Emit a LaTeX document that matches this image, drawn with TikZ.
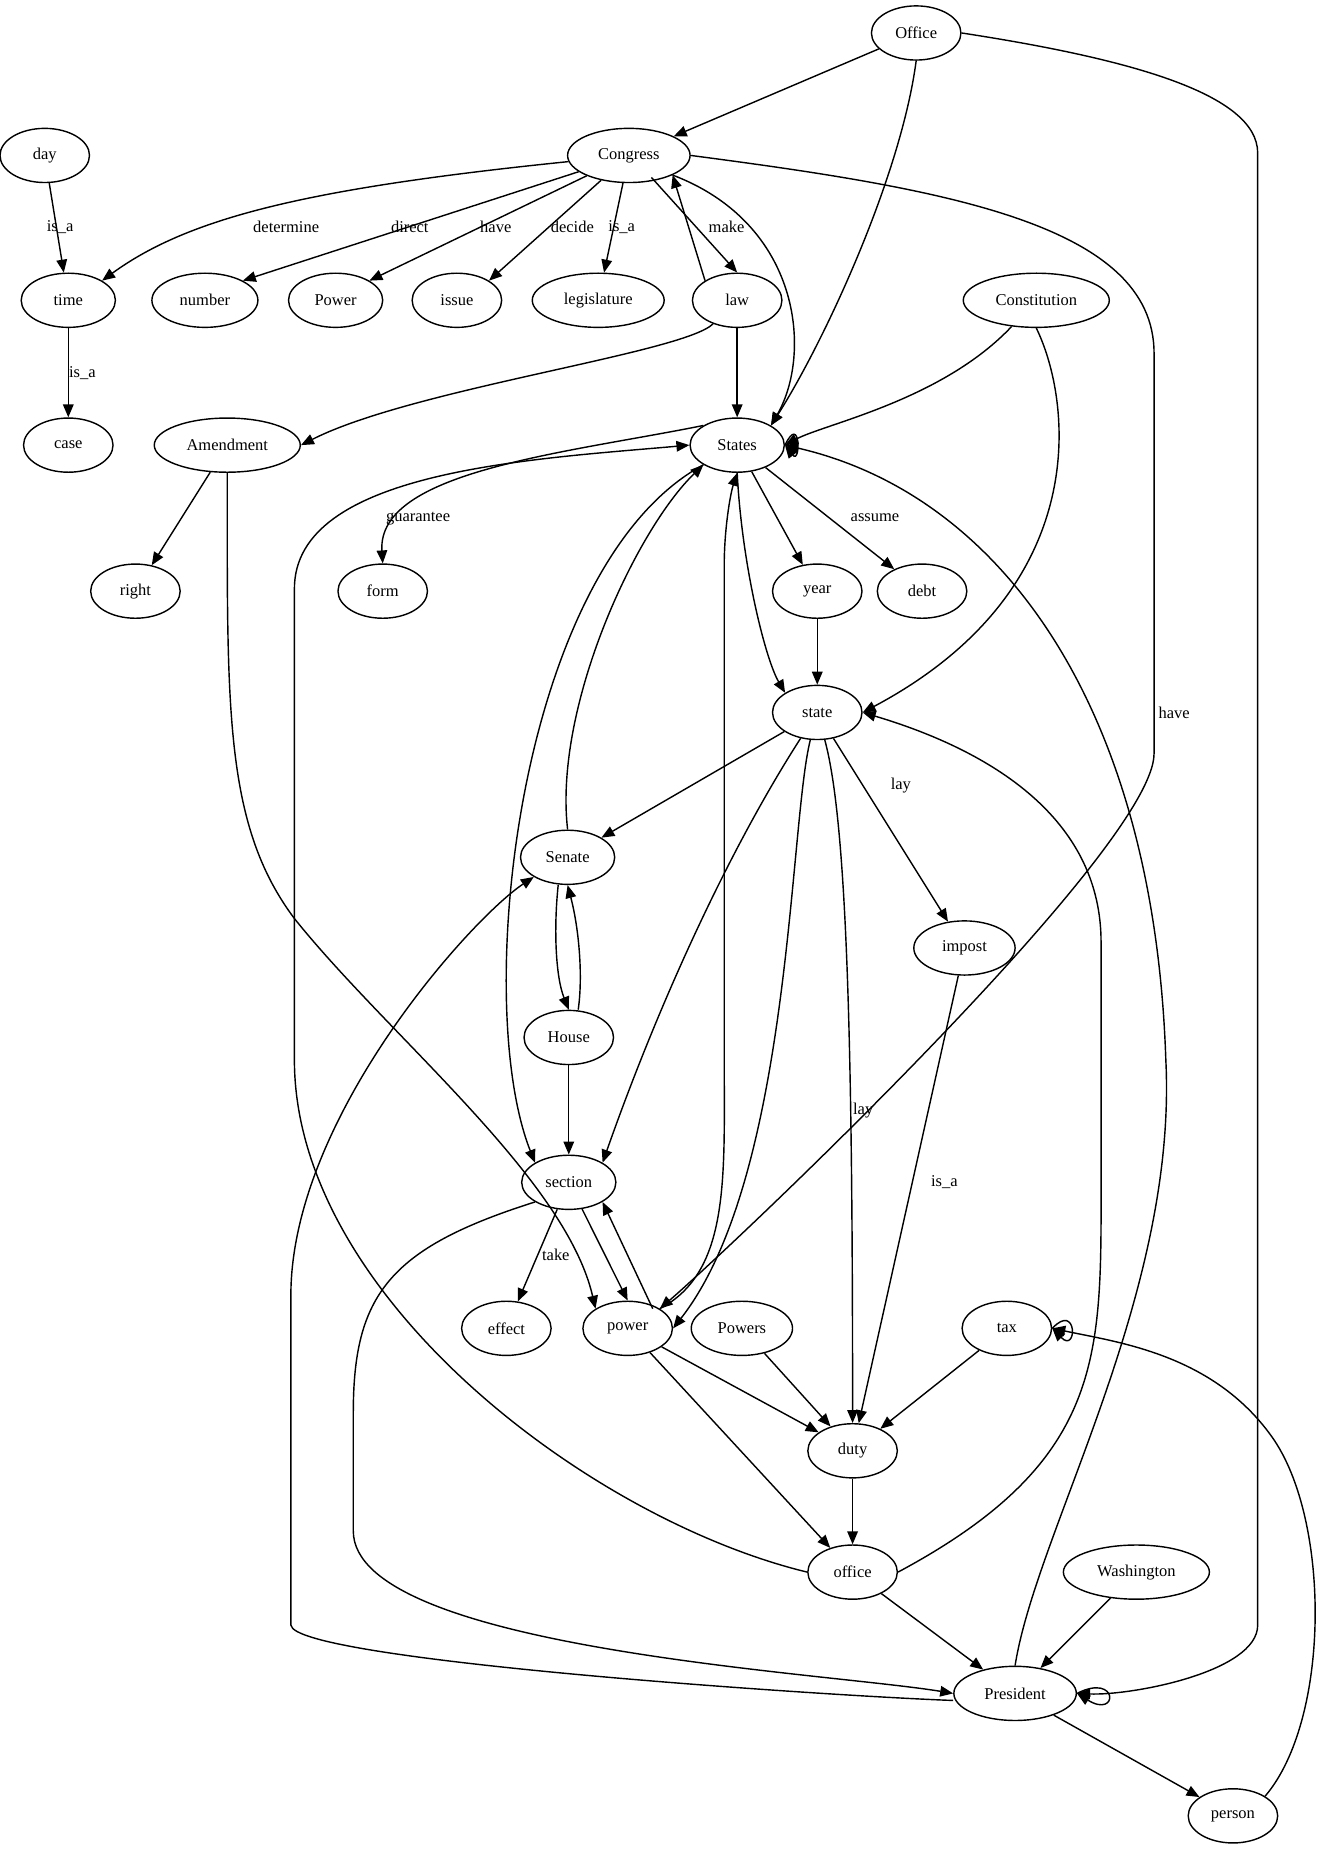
\documentclass[tikz,border=0pt]{standalone}
\usepackage{fontspec}
\setmainfont{Liberation Serif}
\usetikzlibrary{arrows.meta,shapes.geometric}
\begin{document}
\begin{tikzpicture}[x=1pt,y=-1pt,
  nd/.style={draw,ellipse,line width=1.2pt,minimum width=76pt,minimum height=46pt,inner sep=1pt,font=\fontsize{14}{16}\selectfont},
  wide/.style={minimum width=#1},
  ar/.style={-{Triangle[length=11pt,width=9pt]},line width=1.2pt},
  lb/.style={font=\fontsize{14}{16}\selectfont,inner sep=1pt}]
\useasboundingbox (0,0) rectangle (1125,1571);
\node[nd] (Office) at (778,28) {Office};
\node[nd,wide=104pt] (Congress) at (534,132) {Congress};
\node[nd] (day) at (38,132) {day};
\node[nd,wide=80pt] (time) at (58,255) {time};
\node[nd,wide=90pt] (number) at (174,255) {number};
\node[nd,wide=80pt] (Power) at (285,255) {Power};
\node[nd] (issue) at (388,255) {issue};
\node[nd,wide=112pt] (legislature) at (508,255) {legislature};
\node[nd] (law) at (626,255) {law};
\node[nd,wide=124pt] (Constitution) at (880,255) {Constitution};
\node[nd] (case) at (58,378) {case};
\node[nd,wide=124pt] (Amendment) at (193,378) {Amendment};
\node[nd,wide=80pt] (States) at (626,378) {States};
\node[nd] (right) at (115,502) {right};
\node[nd] (form) at (325,502) {form};
\node[nd] (year) at (694,502) {year};
\node[nd] (debt) at (783,502) {debt};
\node[nd] (state) at (694,605) {state};
\node[nd,wide=80pt] (Senate) at (482,728) {Senate};
\node[nd,wide=86pt] (impost) at (819,805) {impost};
\node[nd] (House) at (483,881) {House};
\node[nd,wide=80pt] (section) at (483,1004) {section};
\node[nd] (effect) at (430,1128) {effect};
\node[nd] (power) at (533,1128) {power};
\node[nd,wide=86pt] (Powers) at (630,1128) {Powers};
\node[nd] (tax) at (855,1128) {tax};
\node[nd] (duty) at (724,1232) {duty};
\node[nd] (office) at (724,1335) {office};
\node[nd,wide=124pt] (Washington) at (965,1335) {Washington};
\node[nd,wide=104pt] (President) at (862,1438) {President};
\node[nd] (person) at (1047,1542) {person};

\draw[ar] (Office) -- (Congress);
\draw[ar] (Office.south) .. controls (765,150) and (700,290) .. (States.north east);
\draw[ar] (Office.east) .. controls (960,50) and (1068,80) .. (1068,130) -- (1068,1380) .. controls (1068,1420) and (960,1440) .. (President.east);
\draw[ar] (Congress) .. controls (260,160) and (160,185) .. (time.north east);
\node[lb] at (243,193) {determine};
\draw[ar] (Congress) -- (number.north east); \node[lb] at (348,193) {direct};
\draw[ar] (Congress) -- (Power.north east); \node[lb] at (421,193) {have};
\draw[ar] (Congress) -- (issue.north east); \node[lb] at (486,193) {decide};
\draw[ar] (Congress) -- (legislature); \node[lb] at (528,193) {is\_a};
\draw[ar] (Congress.south east) ++(-18,2) -- (law.north); \node[lb] at (617,193) {make};
\draw[ar] (law.north west) -- (Congress.south east);
\draw[ar] (Congress.south east) .. controls (680,190) and (690,300) .. (States.north east);
\draw[ar] (Congress.east) .. controls (800,160) and (980,190) .. (980,300) -- (980,640) .. controls (980,720) and (620,1060) .. (power.north east);
\node[lb] at (997,605) {have};
\draw[ar] (day) -- (time); \node[lb] at (51,193) {is\_a};
\draw[ar] (time) -- (case); \node[lb] at (70,317) {is\_a};
\draw[ar] (law) -- (States);
\draw[ar] (law) .. controls (580,300) and (350,330) .. (Amendment.east);
\draw[ar] (Constitution) .. controls (800,340) and (700,360) .. (States.east);
\draw[ar] (Constitution.south) .. controls (910,340) and (930,500) .. (state.east);
\draw[ar] (States.east) .. controls (680,350) and (680,395) .. (States.east);
\draw[ar] (States.north west) .. controls (480,385) and (320,400) .. (form.north);
\node[lb] at (355,440) {guarantee};
\draw[ar] (States) -- (year);
\draw[ar] (States) -- (debt); \node[lb] at (743,440) {assume};
\draw[ar] (States.south) .. controls (630,480) and (650,560) .. (state.north west);
\draw[ar] (States.south west) .. controls (440,480) and (400,850) .. (section.north west);
\draw[ar] (Amendment) -- (right);
\draw[ar] (Amendment) .. controls (193,600) and (190,700) .. (250,780) .. controls (330,880) and (480,1000) .. (power.north west);
\draw[ar] (year) -- (state);
\draw[ar] (state) -- (Senate);
\draw[ar] (state) .. controls (620,720) and (560,850) .. (section.north east);
\draw[ar] (state) .. controls (670,700) and (672,1000) .. (power.east);
\draw[ar] (state) .. controls (720,700) and (724,900) .. (duty.north); \node[lb] at (733,943) {lay};
\draw[ar] (state) -- (impost); \node[lb] at (765,667) {lay};
\draw[ar] (Senate.north) .. controls (470,600) and (540,450) .. (States.south west);
\draw[ar] (Senate.south) ++(-8,0) .. controls (470,790) and (472,830) .. (House.north);
\draw[ar] (House.north) ++(8,0) .. controls (495,830) and (492,790) .. (Senate.south);
\draw[ar] (House) -- (section);
\draw[ar] (section) -- (effect); \node[lb] at (472,1066) {take};
\draw[ar] (section) -- (power.north);
\draw[ar] (power.north east) ++(-6,0) -- (section.south east);
\draw[ar] (section.south west) .. controls (330,1060) and (300,1100) .. (300,1200) -- (300,1300) .. controls (300,1400) and (700,1420) .. (President.west);
\draw[ar] (power.north east) .. controls (620,1080) and (615,1000) .. (615,900) -- (615,480) .. controls (615,450) and (620,420) .. (States.south);
\draw[ar] (power) -- (duty);
\draw[ar] (power) -- (office);
\draw[ar] (Powers) -- (duty);
\draw[ar] (tax) -- (duty);
\draw[ar] (impost) -- (duty); \node[lb] at (802,1004) {is\_a};
\draw[ar] (tax.east) .. controls (915,1105) and (915,1150) .. (tax.east);
\draw[ar] (person.north east) .. controls (1130,1460) and (1130,1290) .. (1080,1220) .. controls (1030,1150) and (950,1140) .. (tax.east);
\draw[ar] (duty) -- (office);
\draw[ar] (office) -- (President);
\draw[ar] (office.west) .. controls (500,1290) and (250,1100) .. (250,900) -- (250,500) .. controls (250,400) and (450,390) .. (States.west);
\draw[ar] (office.east) .. controls (940,1240) and (935,1150) .. (935,1000) -- (935,800) .. controls (935,700) and (850,640) .. (state.east);
\draw[ar] (President.west) ++(0,6) .. controls (700,1440) and (250,1410) .. (247,1380) -- (247,1100) .. controls (247,950) and (400,780) .. (Senate.south west);
\draw[ar] (President.east) .. controls (950,1420) and (950,1460) .. (President.east);
\draw[ar] (President) -- (person);
\draw[ar] (President.north) .. controls (880,1300) and (1000,1100) .. (990,900) .. controls (980,600) and (850,420) .. (States.east);
\draw[ar] (Washington) -- (President);
\end{tikzpicture}
\end{document}
